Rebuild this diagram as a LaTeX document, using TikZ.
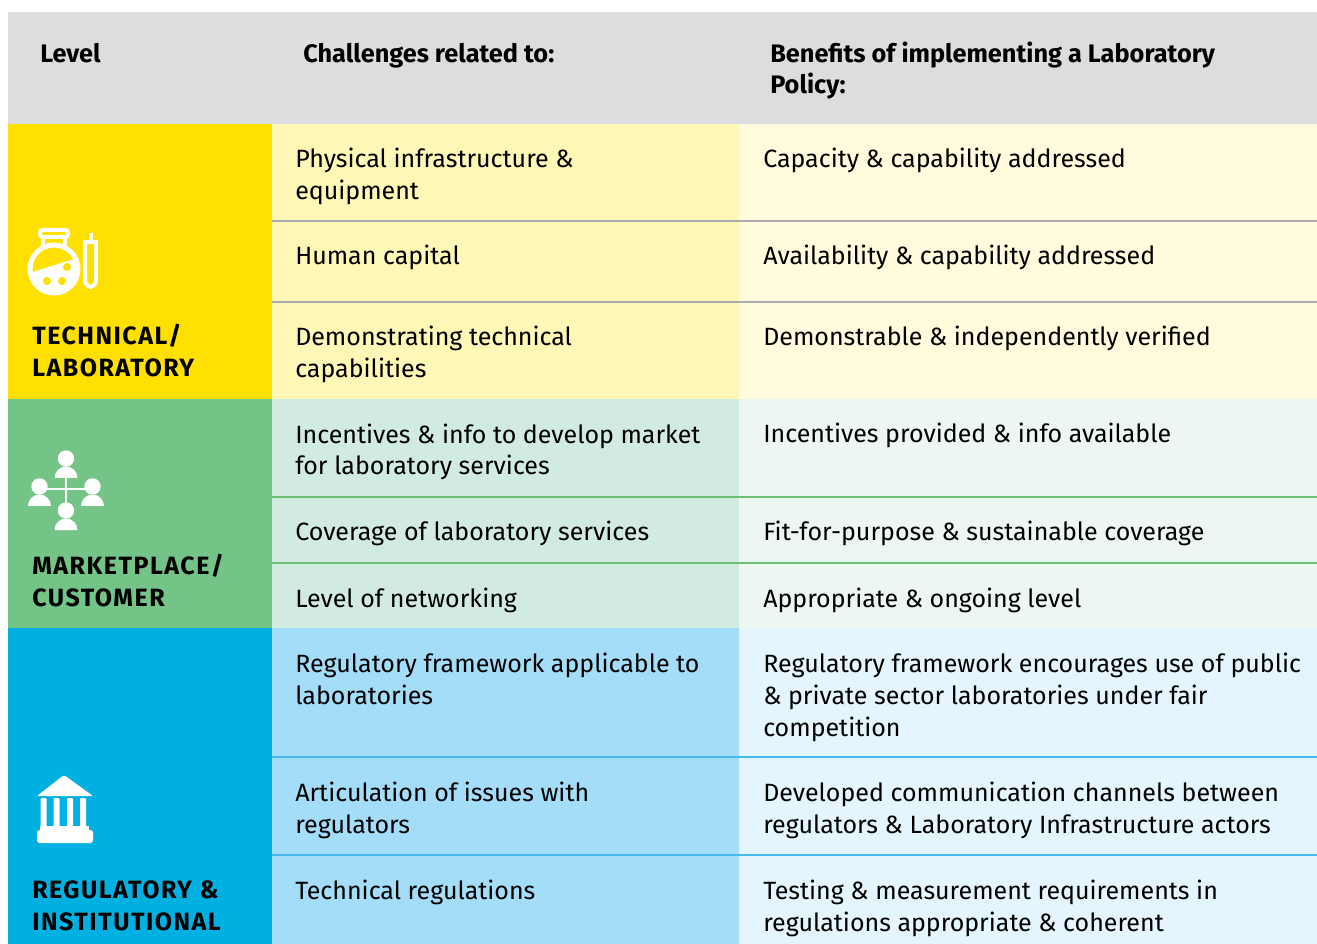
\documentclass[tikz,border=0pt]{standalone}
\usepackage{fontspec}
\setmainfont{Fira Sans}
\newfontfamily\headfont{Fira Sans}
\newfontfamily\levelfont[LetterSpace=6]{Fira Sans}
\usetikzlibrary{positioning}

\definecolor{headgray}{HTML}{DCDDDF}
\definecolor{techlevel}{HTML}{FFE000}
\definecolor{techchal}{HTML}{FFF7B5}
\definecolor{techben}{HTML}{FFFBDC}
\definecolor{techrule}{HTML}{ABABAB}
\definecolor{marklevel}{HTML}{74C387}
\definecolor{markchal}{HTML}{D2EBE0}
\definecolor{markben}{HTML}{ECF7F2}
\definecolor{markrule}{HTML}{6CC070}
\definecolor{reglevel}{HTML}{00B0E0}
\definecolor{regchal}{HTML}{A3DDF8}
\definecolor{regben}{HTML}{E5F5FD}
\definecolor{regrule}{HTML}{45B9EA}

\begin{document}
\begin{tikzpicture}
    [
      x = 0.75pt, y = -0.75pt,
      cell/.style = {anchor=base west, inner sep=0pt, align=left, font=\fontsize{18.75}{24}\selectfont},
      head/.style = {anchor=base west, inner sep=0pt, align=left, font=\headfont\bfseries\fontsize{19}{23.25}\selectfont},
      lvl/.style  = {anchor=base west, inner sep=0pt, align=left, font=\levelfont\bfseries\fontsize{18.75}{24}\selectfont},
      icon/.style = {draw=white, line width=3.75pt},
      rowline/.style = {line width=0.9pt},
    ]
    \useasboundingbox (0,0) rectangle (1317,944);

    % header band (multi-line nodes sit on their last baseline)
    \fill[headgray] (8,12) rectangle (1317,124);
    \node[head] (hlevel) at (40,63) {Level};
    \node[head] (hchal) at (303,63) {Challenges related to:};
    \node[head] (hben) at (770,94) {Benefits of implementing a Laboratory\\Policy:};

    % technical / laboratory
    \fill[techlevel] (8,124) rectangle (272,399);
    \fill[techchal] (272,124) rectangle (739,399);
    \fill[techben] (739,124) rectangle (1317,399);
    \draw[rowline,techrule] (272,221) -- (1317,221);
    \draw[rowline,techrule] (272,302) -- (1317,302);
    \node[cell] (tc1) at (295,200) {Physical infrastructure \&\\equipment};
    \node[cell] (tb1) at (763,168) {Capacity \& capability addressed};
    \node[cell] (tc2) at (295,265) {Human capital};
    \node[cell] (tb2) at (763,265) {Availability \& capability addressed};
    \node[cell] (tc3) at (295,378) {Demonstrating technical\\capabilities};
    \node[cell] (tb3) at (763,346) {Demonstrable \& independently verified};
    \node[lvl] (tlabel) at (32,377) {TECHNICAL/\\LABORATORY};
    % flask and tube
    \begin{scope}
      \clip (54,269) circle (24);
      \fill[white] (20,276) -- (90,254) -- (90,300) -- (20,300) -- cycle;
    \end{scope}
    \draw[icon] (54,269) circle (24);
    \fill[techlevel] (67,267) circle (4) (47,281) circle (4) (62,281) circle (4);
    \draw[icon,line width=3pt] (43,237) -- (43,248) (65,237) -- (65,248);
    \draw[icon,line width=3pt,rounded corners=2pt] (40,230) rectangle (68,237);
    \draw[icon,line width=3pt,rounded corners=5pt] (85,243) -- (85,287) -- (96,287) -- (96,243);
    \draw[icon,line width=3pt] (83,242) -- (98,242) (90.5,233) -- (90.5,243);

    % marketplace / customer
    \fill[marklevel] (8,399) rectangle (272,628);
    \fill[markchal] (272,399) rectangle (739,628);
    \fill[markben] (739,399) rectangle (1317,628);
    \draw[rowline,markrule] (272,497) -- (1317,497);
    \draw[rowline,markrule] (272,563) -- (1317,563);
    \node[cell] (mc1) at (295,475) {Incentives \& info to develop market\\for laboratory services};
    \node[cell] (mb1) at (763,443) {Incentives provided \& info available};
    \node[cell] (mc2) at (295,541) {Coverage of laboratory services};
    \node[cell] (mb2) at (763,541) {Fit-for-purpose \& sustainable coverage};
    \node[cell] (mc3) at (295,607) {Level of networking};
    \node[cell] (mb3) at (763,607) {Appropriate \& ongoing level};
    \node[lvl] (mlabel) at (32,606) {MARKETPLACE/\\CUSTOMER};
    % people network
    \draw[white,line width=2.2pt] (66,478) -- (66,504) (42,489) -- (89,489);
    \foreach \px/\py in {66/478, 39.5/506, 92.5/506, 66/530}
      {
        \fill[white] (\px,\py-19.5) circle (8.2);
        \fill[white] (\px-11.5,\py) arc [start angle=180, end angle=360, radius=11.5] -- cycle;
      }

    % regulatory & institutional
    \fill[reglevel] (8,628) rectangle (272,944);
    \fill[regchal] (272,628) rectangle (739,944);
    \fill[regben] (739,628) rectangle (1317,944);
    \draw[rowline,regrule] (272,757) -- (1317,757);
    \draw[rowline,regrule] (272,855) -- (1317,855);
    \node[cell] (rc1) at (295,704) {Regulatory framework applicable to\\laboratories};
    \node[cell] (rb1) at (763,736) {Regulatory framework encourages use of public\\\& private sector laboratories under fair\\competition};
    \node[cell] (rc2) at (295,833) {Articulation of issues with\\regulators};
    \node[cell] (rb2) at (763,833) {Developed communication channels between\\regulators \& Laboratory Infrastructure actors};
    \node[cell] (rc3) at (295,899) {Technical regulations};
    \node[cell] (rb3) at (763,931) {Testing \& measurement requirements in\\regulations appropriate \& coherent};
    \node[lvl] (rlabel) at (32,930) {REGULATORY \&\\INSTITUTIONAL};
    % building
    \fill[white,rounded corners=1pt] (37,796) -- (64,775) -- (93,796) -- cycle;
    \foreach \cx in {43.5, 56.5, 70, 83}
      \fill[white,rounded corners=0.8pt] (\cx-3,798) rectangle (\cx+3,828);
    \fill[white] (40,826) rectangle (89,832);
    \fill[white,rounded corners=2pt] (37,830) rectangle (93,843);
\end{tikzpicture}
\end{document}
